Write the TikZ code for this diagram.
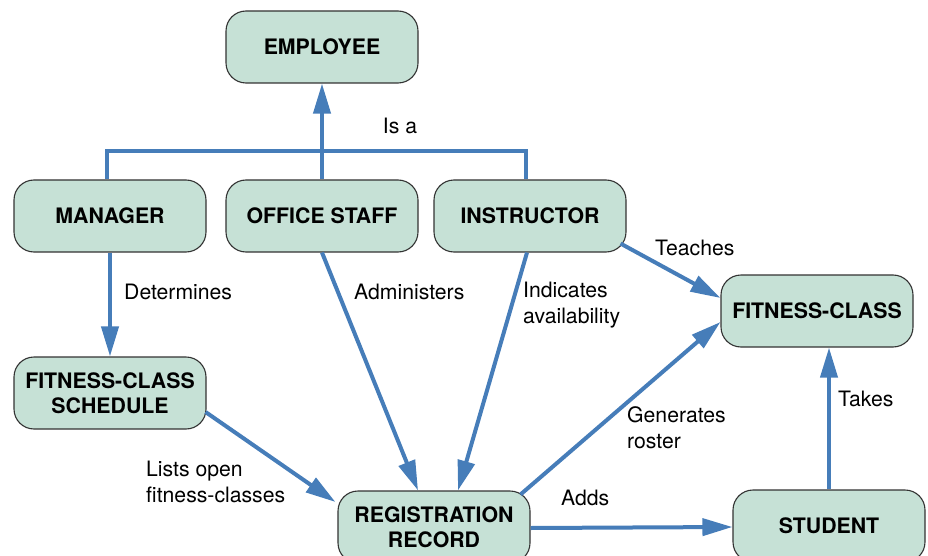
\documentclass[tikz,border=0pt]{standalone}
\usepackage{fontspec}
\setmainfont{TeX Gyre Heros}
\usepackage{tikz}
\usetikzlibrary{positioning, calc, arrows.meta}
\definecolor{boxfill}{RGB}{198,225,214}
\definecolor{linkblue}{RGB}{70,125,185}
\tikzset{
	entity/.style={draw=black!80, line width=1.1pt, fill=boxfill, rounded corners=20pt,
		minimum width=192pt, minimum height=72pt, align=center,
		font=\fontsize{21.3}{25}\selectfont\bfseries}
}
\tikzset{
	link/.style={draw=linkblue, line width=4pt, -{Triangle[length=30pt,width=17pt]}},
	plainlink/.style={draw=linkblue, line width=4pt},
	lbl/.style={font=\fontsize{21.2}{26}\selectfont, align=left, inner sep=0pt}
}

\begin{document}
\begin{tikzpicture}[x=1pt,y=-1pt]
      \useasboundingbox (0,0) rectangle (928,556);
      \node[entity] (emp) at (322,47) {EMPLOYEE};
      \node[entity] (mgr) at (110,216) {MANAGER};
      \node[entity] (ofc) at (322,216) {OFFICE STAFF};
      \node[entity] (ins) at (530,216) {INSTRUCTOR};
      \node[entity] (fc) at (817,311) {FITNESS-CLASS};
      \node[entity] (sch) at (110,393) {FITNESS-CLASS\\SCHEDULE};
      \node[entity] (reg) at (434,527) {REGISTRATION\\RECORD};
      \node[entity] (stu) at (829,526) {STUDENT};
      % is-a bracket
      \draw[plainlink] ([xshift=-3pt]mgr.north) -- ++(0,-28) -| ([xshift=-4pt]ins.north);
      \draw[link] (ofc.north) -- (emp.south);
      \node[lbl] (isa) at (400,126) {Is a};
      % relations
      \draw[link] (mgr.south) -- (sch.north);
      \node[lbl, anchor=west] (det) at (124,292) {Determines};
      \draw[link] (ofc.south) -- ([xshift=-16pt]reg.north);
      \node[lbl, anchor=west] (adm) at (354,292) {Administers};
      \draw[link] ([xshift=-3pt]ins.south) -- ([xshift=24pt]reg.north);
      \node[lbl, anchor=west] (ind) at (523,305) {Indicates\\availability};
      \draw[link] ($(ins.south east)+(-6,-9)$) -- ($(fc.west)+(0,-13)$);
      \node[lbl, anchor=west] (tch) at (655,248) {Teaches};
      \draw[link] ($(reg.north east)+(-10,4)$) -- ($(fc.west)+(0,11)$);
      \node[lbl, anchor=west] (gen) at (627,428) {Generates\\roster};
      \draw[link] ([yshift=-1pt]reg.east) -- ([yshift=-1pt]stu.west);
      \node[lbl, anchor=west] (add) at (561,498) {Adds};
      \draw[link] (stu.north) -- (stu.north |- fc.south);
      \node[lbl, anchor=west] (tak) at (838,399) {Takes};
      \draw[link] ($(sch.east)+(-1,19)$) -- ($(reg.west)+(-2,-25)$);
      \node[lbl, anchor=west] (lst) at (146,482) {Lists open\\fitness-classes};
    \end{tikzpicture}
\end{document}
